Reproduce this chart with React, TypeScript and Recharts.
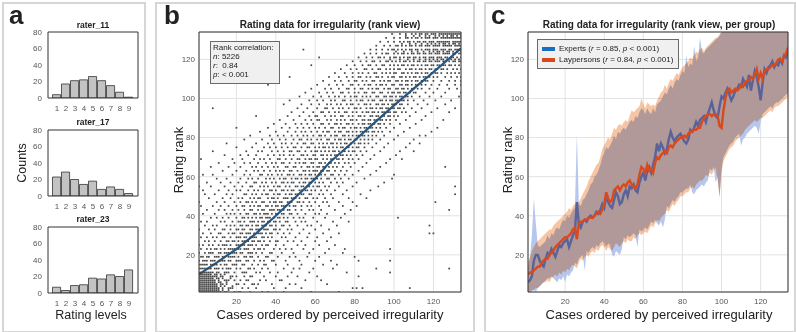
import React from 'react';
import { ComposedChart, Bar, Line, Area, Scatter, XAxis, YAxis, CartesianGrid } from 'recharts';

const FONT = '"Liberation Sans", Arial, Helvetica, sans-serif';
const AXIS = '#333';
const GRID = '#e3e3e3';

// panel a: histograms of three raters
const levels = [1, 2, 3, 4, 5, 6, 7, 8, 9];
const rater11 = [4, 17, 21, 22, 26, 21, 15, 7, 1];
const rater17 = [23, 29, 20, 14, 18, 8, 11, 8, 3];
const rater23 = [7, 3, 9, 10, 18, 17, 22, 20, 28];
const countTicks = [0, 20, 40, 60, 80];
const rankTicks = [20, 40, 60, 80, 100, 120];

// panel b: tied ranks form horizontal streaks.
// each streak: its rank and the cases holding a dot on it
const lowRanks = [1, 3, 5, 7, 9, 11, 13, 15, 17, 19, 21, 23, 25, 27, 29, 31, 33, 35, 37, 39, 41, 43];
const lowCases = [
  [1, 2, 3, 4, 5, 6, 7, 8, 9, 10, 11, 12, 14, 15, 19, 21, 22, 27, 33, 36, 44, 58, 72],
  [1, 2, 3, 4, 5, 6, 7, 8, 9, 10, 11, 13, 16, 17, 18, 23, 26, 30, 39, 45, 53, 79, 81, 84, 108],
  [1, 2, 3, 4, 5, 6, 7, 8, 9, 10, 12, 13, 15, 20, 21, 24, 28, 29, 31, 38, 47, 50, 66],
  [1, 2, 3, 4, 5, 6, 7, 8, 9, 11, 14, 15, 16, 19, 22, 25, 26, 32, 35, 42, 43, 55, 63],
  [1, 2, 3, 4, 5, 6, 7, 8, 9, 10, 12, 13, 17, 18, 20, 24, 27, 28, 34, 40, 46, 51, 61, 82],
  [1, 2, 3, 4, 5, 6, 7, 8, 10, 11, 14, 15, 16, 19, 23, 24, 25, 30, 32, 37, 41, 48, 57, 76, 98],
  [1, 2, 3, 4, 5, 6, 7, 9, 10, 11, 13, 15, 16, 17, 20, 22, 26, 27, 29, 33, 36, 44, 49, 52, 59, 69, 91, 128],
  [1, 2, 3, 4, 5, 7, 8, 9, 10, 12, 14, 15, 18, 19, 20, 23, 24, 28, 31, 34, 35, 40, 46, 53, 64, 71],
  [1, 3, 4, 5, 7, 8, 9, 11, 12, 13, 14, 16, 17, 20, 21, 22, 25, 26, 29, 32, 34, 38, 39, 45, 52, 60, 68, 82, 98],
  [2, 3, 5, 6, 9, 10, 11, 13, 14, 16, 17, 18, 19, 21, 24, 25, 27, 28, 31, 35, 36, 41, 47, 50, 56, 62, 80],
  [1, 4, 6, 7, 8, 11, 12, 14, 15, 16, 18, 19, 20, 22, 23, 26, 27, 28, 30, 33, 37, 38, 43, 49, 57, 65, 74],
  [2, 5, 7, 9, 10, 12, 14, 16, 17, 18, 19, 21, 22, 24, 25, 26, 29, 31, 32, 34, 39, 42, 45, 48, 54, 59, 67, 75, 98],
  [1, 3, 6, 8, 11, 13, 14, 15, 17, 20, 21, 22, 23, 24, 26, 27, 28, 30, 33, 35, 36, 40, 44, 51, 55, 62, 70],
  [4, 6, 9, 12, 15, 16, 18, 19, 21, 23, 24, 25, 26, 28, 29, 31, 32, 34, 37, 40, 41, 46, 49, 53, 60, 66],
  [2, 5, 8, 10, 13, 14, 17, 20, 21, 22, 24, 25, 27, 28, 29, 30, 33, 34, 36, 38, 43, 45, 50, 56, 61, 68],
  [3, 7, 11, 12, 16, 18, 19, 22, 23, 25, 26, 27, 29, 31, 32, 33, 35, 37, 38, 41, 44, 47, 52, 57, 64, 72, 118, 120],
  [1, 6, 9, 13, 14, 17, 20, 21, 23, 24, 27, 28, 30, 31, 32, 34, 35, 36, 39, 40, 42, 46, 48, 54, 60, 67],
  [4, 8, 10, 15, 17, 19, 22, 23, 25, 26, 28, 30, 31, 33, 34, 35, 37, 38, 40, 43, 44, 47, 51, 56, 58, 63, 71, 118],
  [2, 5, 12, 14, 18, 21, 22, 24, 27, 28, 29, 31, 33, 34, 36, 37, 39, 40, 42, 45, 46, 50, 53, 55, 61, 69, 77],
  [7, 10, 13, 16, 20, 23, 24, 26, 28, 30, 32, 33, 35, 36, 37, 39, 41, 42, 44, 46, 49, 52, 54, 59, 65, 73, 102],
  [3, 9, 15, 17, 19, 22, 25, 26, 29, 30, 32, 34, 35, 36, 38, 40, 41, 43, 44, 47, 48, 51, 55, 60, 62, 66, 75],
  [5, 11, 14, 18, 21, 24, 27, 28, 31, 33, 34, 37, 38, 39, 41, 42, 44, 46, 47, 50, 53, 57, 59, 63, 70, 78, 128],
];

const midRanks = [45, 47, 49, 51, 53, 55, 57, 59, 61, 63, 65, 67, 69, 71, 73, 75, 77, 79, 81, 83, 85, 87, 89];
const midCases = [
  [2, 8, 12, 16, 20, 23, 24, 27, 29, 31, 32, 35, 36, 38, 40, 41, 43, 44, 45, 47, 49, 50, 53, 56, 58, 62, 67, 74, 81],
  [1, 10, 14, 19, 22, 25, 26, 28, 30, 33, 34, 37, 39, 40, 42, 43, 46, 47, 48, 51, 52, 54, 57, 60, 64, 66, 72, 79, 121],
  [6, 13, 17, 21, 23, 27, 29, 31, 32, 36, 38, 39, 41, 44, 45, 46, 48, 49, 50, 52, 55, 56, 59, 61, 65, 69, 77, 86],
  [4, 9, 15, 18, 24, 25, 28, 30, 33, 35, 36, 39, 41, 42, 45, 47, 48, 50, 51, 53, 54, 57, 58, 62, 64, 68, 74, 83, 131],
  [3, 11, 16, 20, 22, 26, 29, 31, 34, 37, 38, 40, 43, 44, 46, 48, 49, 52, 53, 55, 56, 58, 60, 63, 66, 70, 76, 88],
  [1, 7, 14, 19, 23, 27, 28, 32, 34, 36, 39, 41, 42, 45, 47, 50, 51, 53, 54, 56, 57, 59, 61, 62, 65, 67, 72, 79, 92, 131],
  [5, 12, 17, 21, 25, 29, 30, 33, 35, 38, 40, 43, 44, 46, 48, 49, 52, 54, 55, 57, 58, 60, 62, 64, 68, 71, 74, 81, 95],
  [10, 15, 22, 26, 28, 31, 35, 37, 39, 42, 44, 45, 48, 50, 51, 53, 55, 56, 58, 59, 61, 63, 66, 67, 70, 73, 77, 85, 99],
  [3, 8, 18, 24, 27, 32, 33, 36, 38, 41, 43, 46, 47, 49, 52, 53, 55, 57, 58, 60, 62, 63, 65, 68, 69, 72, 75, 79, 88, 100],
  [13, 20, 25, 29, 31, 34, 37, 40, 42, 44, 47, 48, 51, 54, 55, 57, 59, 60, 61, 63, 64, 66, 67, 70, 73, 76, 82, 91],
  [7, 16, 22, 28, 30, 33, 36, 39, 41, 45, 46, 49, 50, 53, 56, 57, 59, 61, 62, 64, 65, 67, 69, 71, 74, 78, 84, 93, 126],
  [11, 19, 24, 27, 31, 35, 38, 40, 43, 44, 47, 50, 52, 54, 55, 58, 59, 62, 63, 65, 67, 68, 70, 72, 75, 77, 80, 86, 96],
  [2, 18, 23, 29, 32, 34, 37, 41, 42, 45, 48, 51, 52, 55, 57, 58, 60, 61, 64, 66, 68, 69, 71, 72, 74, 77, 79, 82, 88, 98, 104],
  [14, 22, 26, 30, 36, 39, 42, 44, 47, 49, 53, 54, 56, 59, 60, 63, 64, 66, 68, 70, 71, 73, 74, 76, 78, 81, 84, 90, 101],
  [8, 25, 31, 33, 38, 41, 44, 47, 48, 51, 52, 55, 58, 60, 61, 63, 65, 67, 69, 70, 72, 74, 75, 77, 79, 80, 83, 86, 93, 103, 110],
  [20, 28, 34, 37, 40, 43, 46, 49, 50, 53, 56, 57, 60, 62, 64, 65, 67, 69, 71, 73, 74, 76, 77, 79, 81, 82, 85, 89, 95, 106],
  [15, 30, 36, 39, 43, 45, 48, 51, 54, 55, 58, 59, 62, 64, 66, 68, 69, 71, 73, 75, 76, 78, 80, 82, 83, 85, 87, 91, 97, 108, 113],
  [24, 33, 38, 42, 45, 49, 52, 53, 56, 58, 61, 63, 66, 67, 70, 72, 73, 75, 77, 78, 80, 81, 83, 85, 87, 89, 93, 100, 110],
  [27, 37, 41, 44, 48, 51, 54, 56, 59, 62, 63, 65, 68, 70, 71, 74, 75, 77, 79, 81, 82, 84, 85, 87, 89, 91, 95, 102, 113, 116],
  [32, 40, 46, 50, 53, 55, 58, 61, 64, 66, 67, 70, 72, 73, 76, 77, 79, 81, 83, 84, 86, 87, 89, 90, 92, 94, 98, 105, 119],
  [20, 36, 43, 47, 51, 54, 57, 60, 62, 65, 68, 69, 72, 74, 75, 78, 80, 81, 83, 85, 86, 88, 89, 91, 93, 96, 100, 108, 122],
  [39, 45, 50, 53, 56, 59, 63, 64, 67, 70, 71, 73, 76, 77, 79, 82, 84, 85, 87, 88, 90, 92, 93, 95, 98, 103, 111],
  [42, 49, 55, 58, 61, 62, 66, 68, 71, 73, 75, 78, 79, 81, 84, 85, 87, 88, 90, 91, 93, 94, 96, 98, 101, 106, 114, 125],
];

const highRanks = [91, 93, 95, 97, 99, 101, 103, 105, 107, 109, 111, 113, 115, 117, 119, 121, 123, 125, 127, 129, 131, 133];
const highCases = [
  [30, 46, 52, 57, 60, 61, 65, 68, 70, 73, 74, 77, 79, 82, 83, 85, 88, 89, 91, 92, 94, 95, 97, 98, 100, 102, 108, 116],
  [48, 54, 59, 63, 64, 67, 70, 72, 75, 76, 79, 81, 84, 86, 87, 89, 90, 92, 94, 95, 97, 98, 100, 101, 104, 106, 111, 119, 128],
  [8, 51, 56, 61, 65, 66, 69, 72, 74, 77, 80, 81, 83, 86, 88, 89, 91, 93, 94, 96, 97, 99, 100, 102, 103, 105, 109, 114, 122, 131],
  [44, 53, 58, 62, 66, 68, 71, 73, 76, 78, 79, 82, 85, 86, 88, 91, 92, 94, 95, 97, 99, 100, 101, 103, 104, 107, 112, 117, 126],
  [47, 57, 61, 64, 68, 70, 74, 75, 78, 81, 83, 84, 87, 89, 90, 93, 94, 96, 98, 99, 101, 102, 104, 105, 107, 110, 115, 121, 129],
  [52, 59, 63, 67, 70, 72, 75, 78, 80, 81, 84, 86, 88, 91, 92, 95, 96, 98, 99, 101, 103, 104, 106, 107, 109, 113, 118, 124, 133],
  [55, 62, 66, 69, 73, 74, 77, 80, 82, 85, 86, 89, 90, 93, 94, 97, 99, 100, 102, 103, 105, 106, 108, 110, 111, 116, 120, 126, 134],
  [58, 65, 68, 72, 76, 77, 80, 83, 84, 87, 89, 91, 92, 95, 97, 98, 101, 102, 104, 105, 107, 109, 110, 112, 114, 118, 122, 128, 132],
  [36, 61, 67, 71, 74, 78, 79, 82, 85, 87, 88, 91, 93, 94, 96, 99, 100, 103, 104, 106, 107, 109, 111, 112, 114, 116, 119, 123, 127, 131, 134],
  [64, 70, 73, 77, 80, 81, 84, 86, 89, 90, 93, 95, 97, 98, 101, 102, 104, 106, 107, 109, 111, 112, 114, 116, 117, 120, 124, 128, 131, 134],
  [47, 67, 72, 76, 79, 82, 83, 86, 88, 91, 92, 94, 97, 99, 100, 103, 104, 106, 108, 110, 111, 113, 115, 116, 118, 120, 122, 126, 129, 132, 134],
  [70, 75, 79, 82, 84, 87, 90, 91, 94, 96, 98, 100, 101, 104, 105, 107, 109, 111, 112, 114, 116, 117, 119, 121, 122, 124, 127, 129, 131, 133],
  [73, 78, 81, 85, 86, 89, 92, 93, 96, 98, 100, 102, 103, 106, 108, 109, 111, 113, 114, 116, 118, 119, 121, 122, 124, 125, 127, 130, 132, 134],
  [58, 76, 80, 84, 87, 88, 91, 94, 95, 98, 100, 102, 104, 105, 107, 109, 110, 112, 114, 116, 117, 119, 120, 122, 123, 125, 126, 128, 129, 131, 133],
  [79, 83, 86, 89, 90, 93, 96, 97, 99, 101, 103, 105, 106, 108, 110, 112, 113, 115, 116, 118, 119, 121, 122, 123, 125, 126, 128, 130, 131, 133, 134],
  [62, 82, 86, 89, 92, 93, 95, 98, 100, 101, 103, 105, 107, 108, 110, 111, 113, 115, 116, 118, 119, 120, 122, 123, 124, 126, 127, 129, 130, 132, 134],
  [85, 88, 91, 94, 96, 97, 100, 102, 104, 105, 107, 109, 110, 112, 113, 115, 116, 118, 119, 121, 122, 123, 125, 126, 127, 128, 130, 131, 133, 134],
  [54, 88, 91, 94, 97, 99, 100, 102, 104, 106, 108, 109, 111, 112, 114, 116, 117, 118, 120, 121, 122, 124, 125, 126, 128, 129, 131, 132, 133, 134],
  [91, 95, 98, 101, 102, 104, 106, 108, 109, 111, 113, 114, 116, 117, 118, 120, 121, 122, 123, 125, 126, 127, 128, 129, 131, 132, 133, 134],
  [26, 93, 97, 100, 103, 105, 107, 108, 110, 112, 113, 115, 116, 118, 119, 120, 122, 123, 124, 125, 126, 127, 128, 130, 131, 132, 133, 134],
  [96, 100, 103, 106, 107, 109, 111, 112, 114, 116, 117, 118, 120, 121, 122, 124, 125, 126, 127, 128, 129, 130, 131, 132, 133, 134],
  [99, 103, 106, 109, 111, 113, 114, 116, 117, 119, 120, 121, 123, 124, 125, 126, 127, 128, 129, 130, 131, 132, 133, 134],
];

// the two dense corners hold extra in-between streaks
const cornerRanks = [2, 4, 6, 8, 10, 120, 124, 128, 132];
const cornerCases = [
  [1, 2, 3, 4, 5, 6, 7, 8, 9, 10, 11, 13, 16],
  [1, 2, 3, 4, 5, 6, 7, 8, 9, 10, 12, 14, 18],
  [1, 2, 3, 4, 5, 6, 7, 8, 9, 11, 12, 15],
  [1, 2, 3, 4, 5, 6, 7, 8, 10, 11, 13, 17],
  [1, 2, 3, 4, 5, 6, 7, 9, 10, 12, 14],
  [98, 103, 107, 110, 113, 116, 118, 120, 122, 124, 125, 127, 129, 131, 133],
  [101, 105, 109, 112, 115, 118, 120, 122, 123, 125, 127, 128, 130, 132, 134],
  [104, 108, 111, 114, 117, 119, 121, 123, 125, 126, 128, 130, 131, 133],
  [106, 110, 113, 116, 118, 121, 123, 125, 127, 129, 130, 132, 134],
];

// mean rank per case (blue line in b)
const trendCase = [1, 10, 20, 30, 40, 50, 60, 67, 80, 90, 100, 110, 120, 134];
const trendRank = [10, 16, 23, 31, 40, 49.5, 59, 67, 78.5, 87.5, 96.5, 105, 113.5, 125.7];

// panel c: per group mean rank and spread, cases 1..134
const expertsMean = [
  6, 7, 9, 17, 20, 20, 17, 15, 14, 18, 21, 20, 23, 21, 19, 22, 25, 24, 26, 27,
  28, 24, 27, 30, 32, 47, 36, 34, 37, 38, 37, 39, 40, 39, 40, 42, 41, 43, 46, 44,
  50, 47, 45, 44, 48, 52, 50, 46, 47, 51, 53, 50, 55, 54, 56, 53, 52, 57, 60, 62,
  58, 63, 65, 62, 66, 70, 77, 73, 77, 75, 72, 74, 79, 83, 80, 78, 80, 81, 82, 80,
  78, 77, 79, 84, 83, 85, 88, 86, 89, 90, 91, 88, 92, 95, 98, 94, 91, 90, 96, 101,
  100, 103, 105, 102, 99, 101, 104, 105, 107, 106, 110, 108, 106, 112, 104, 109, 114, 111, 106, 99,
  108, 115, 113, 116, 117, 119, 116, 118, 117, 120, 118, 122, 121, 124,
];
const laypersonsMean = [
  10, 11, 11, 12, 13, 14, 14, 16, 17, 18, 18, 20, 21, 22, 24, 25, 26, 27, 28, 29,
  29, 30, 31, 33, 34, 28, 36, 37, 37, 38, 38, 39, 39, 39, 40, 41, 42, 41, 43, 46,
  52, 49, 47, 48, 53, 54, 55, 53, 55, 56, 55, 57, 58, 56, 55, 54, 56, 61, 65, 64,
  62, 66, 63, 64, 62, 67, 70, 69, 71, 72, 73, 72, 75, 76, 75, 77, 78, 79, 80, 80,
  81, 80, 82, 83, 83, 84, 84, 85, 85, 88, 90, 91, 92, 92, 91, 92, 92, 91, 86, 85,
  94, 100, 104, 105, 103, 104, 105, 104, 105, 107, 106, 108, 109, 109, 111, 110, 112, 115, 110, 113,
  110, 114, 115, 115, 116, 117, 117, 118, 120, 120, 119, 122, 123, 126,
];
const expertsLo = [
  1, 1, 1, 2, 1, 3, 4, 5, 6, 7, 8, 8, 9, 8, 7, 6, 8, 7, 9, 6,
  10, 9, 11, 12, 16, 15, 18, 19, 20, 12, 22, 21, 23, 24, 23, 25, 24, 26, 27, 26,
  24, 26, 25, 20, 19, 22, 21, 20, 23, 29, 28, 30, 29, 30, 31, 30, 24, 33, 32, 33,
  34, 33, 35, 37, 36, 38, 36, 35, 37, 34, 38, 45, 44, 46, 48, 47, 49, 50, 52, 52,
  53, 54, 54, 56, 52, 51, 53, 54, 55, 56, 55, 57, 58, 64, 63, 65, 57, 60, 49, 64,
  70, 72, 74, 76, 77, 78, 80, 81, 82, 76, 79, 80, 82, 83, 84, 85, 86, 85, 82, 88,
  92, 93, 94, 95, 96, 95, 97, 98, 98, 99, 100, 101, 102, 103,
];
const expertsHi = [
  14, 18, 30, 49, 36, 25, 24, 25, 26, 27, 30, 28, 31, 30, 33, 34, 33, 36, 38, 37,
  40, 39, 41, 43, 44, 82, 46, 45, 48, 49, 51, 53, 56, 57, 60, 61, 63, 66, 70, 72,
  75, 74, 76, 78, 81, 79, 83, 82, 84, 85, 84, 86, 88, 89, 88, 91, 90, 93, 95, 94,
  92, 95, 93, 92, 95, 93, 97, 98, 99, 101, 103, 102, 105, 107, 105, 108, 110, 109, 112, 114,
  113, 122, 116, 118, 117, 127, 119, 121, 131, 124, 123, 125, 126, 127, 128, 129, 130, 131, 132, 134,
  136, 136, 136, 136, 136, 136, 136, 136, 136, 136, 136, 136, 136, 136, 136, 136, 136, 136, 136, 136,
  136, 136, 136, 136, 136, 136, 136, 136, 136, 136, 136, 136, 136, 136,
];
const laypersonsLo = [
  1, 1, 2, 2, 3, 3, 4, 5, 6, 6, 7, 6, 8, 9, 10, 9, 11, 10, 12, 11,
  13, 12, 14, 15, 14, 13, 16, 18, 17, 19, 20, 19, 21, 22, 21, 23, 22, 24, 25, 24,
  22, 24, 23, 22, 24, 26, 25, 24, 26, 27, 26, 28, 27, 27, 29, 28, 30, 31, 30, 31,
  32, 31, 33, 35, 34, 36, 38, 37, 39, 40, 41, 43, 42, 44, 46, 45, 47, 48, 50, 50,
  51, 52, 52, 54, 55, 54, 56, 57, 58, 58, 59, 61, 60, 62, 61, 63, 65, 58, 50, 62,
  68, 70, 72, 74, 75, 76, 78, 79, 80, 81, 82, 84, 85, 86, 87, 88, 89, 88, 89, 90,
  90, 91, 92, 93, 94, 93, 95, 96, 96, 97, 98, 99, 100, 101,
];
const laypersonsHi = [
  17, 19, 22, 24, 26, 27, 28, 29, 30, 31, 32, 33, 33, 35, 36, 37, 38, 39, 40, 41,
  42, 44, 43, 45, 46, 45, 47, 49, 51, 53, 55, 58, 60, 62, 64, 66, 67, 70, 74, 76,
  78, 80, 79, 82, 85, 84, 86, 87, 86, 88, 89, 88, 91, 94, 93, 94, 95, 96, 100, 97,
  95, 98, 97, 96, 97, 96, 99, 101, 103, 104, 107, 105, 108, 110, 109, 111, 113, 112, 114, 116,
  117, 118, 119, 121, 120, 122, 124, 123, 125, 126, 124, 126, 127, 128, 129, 130, 131, 131, 133, 134,
  136, 136, 136, 136, 136, 136, 136, 136, 136, 136, 136, 136, 136, 136, 136, 136, 136, 136, 136, 136,
  136, 136, 136, 136, 136, 136, 136, 136, 136, 136, 136, 136, 136, 136,
];

const streakRanks = [...lowRanks, ...midRanks, ...highRanks, ...cornerRanks];
const streakCases = [...lowCases, ...midCases, ...highCases, ...cornerCases];
const dots = streakCases.flatMap((cases, i) => cases.map(c => ({ x: c, y: streakRanks[i] })));
const trend = trendCase.map((x, i) => ({ x, y: trendRank[i] }));
const groupRows = expertsMean.map((v, i) => ({
  x: i + 1,
  exp: v,
  lay: laypersonsMean[i],
  expBand: [expertsLo[i], expertsHi[i]],
  layBand: [laypersonsLo[i], laypersonsHi[i]],
}));

const tickStyle = { fontSize: 8, fill: '#555', fontFamily: FONT };

// MATLAB-like box: labelled bottom/left axes plus inward tick marks on all four sides
function frame(o: {
  xDomain: number[]; yDomain: number[]; xTicks: number[]; yTicks: number[];
  xHeight: number; yWidth: number; xGap: number; yGap: number; inTick: number; yKey?: string;
}) {
  const common = { type: 'number' as const, allowDataOverflow: true, interval: 0 as const };
  return [
    <XAxis key="xm" xAxisId="m" dataKey="x" {...common} domain={o.xDomain} ticks={o.xTicks} height={o.xHeight}
      tickLine={false} tickSize={o.xGap} tickMargin={2} axisLine={{ stroke: AXIS }} tick={tickStyle} />,
    <XAxis key="xi" xAxisId="xi" dataKey="x" {...common} domain={o.xDomain} ticks={o.xTicks} orientation="bottom" mirror
      height={1} tick={false} tickSize={o.inTick} tickLine={{ stroke: AXIS }} axisLine={false} />,
    <XAxis key="xt" xAxisId="xt" dataKey="x" {...common} domain={o.xDomain} ticks={o.xTicks} orientation="top" mirror
      height={1} tick={false} tickSize={o.inTick} tickLine={{ stroke: AXIS }} axisLine={{ stroke: AXIS }} />,
    <YAxis key="ym" yAxisId="m" dataKey={o.yKey} {...common} domain={o.yDomain} ticks={o.yTicks} width={o.yWidth}
      tickLine={false} tickSize={o.yGap} tickMargin={2} axisLine={{ stroke: AXIS }} tick={tickStyle} />,
    <YAxis key="yi" yAxisId="yi" {...common} domain={o.yDomain} ticks={o.yTicks} orientation="left" mirror
      width={1} tick={false} tickSize={o.inTick} tickLine={{ stroke: AXIS }} axisLine={false} />,
    <YAxis key="yr" yAxisId="yr" {...common} domain={o.yDomain} ticks={o.yTicks} orientation="right" mirror
      width={1} tick={false} tickSize={o.inTick} tickLine={{ stroke: AXIS }} axisLine={{ stroke: AXIS }} />,
  ];
}

function Txt({ x, y, children, size = 8, bold = false, rotate = false, color = '#222', align = 'center' }: any) {
  const tx = align === 'center' ? '-50%' : '0';
  return (
    <div
      style={{
        position: 'absolute', left: x, top: y, fontFamily: FONT, fontSize: size, lineHeight: 1,
        fontWeight: bold ? 700 : 400, color, whiteSpace: 'nowrap',
        transform: `translate(${tx}, -50%)${rotate ? ' rotate(-90deg)' : ''}`,
      }}
    >
      {children}
    </div>
  );
}

function RaterHist({ counts, top }: { counts: number[]; top: number }) {
  const data = levels.map((x, i) => ({ x, count: counts[i] }));
  return (
    <div style={{ position: 'absolute', left: 0, top: top - 8 }}>
      <ComposedChart width={144} height={90} data={data} margin={{ top: 8, right: 6, bottom: 0, left: 28 }}>
        {frame({ xDomain: [0, 10], yDomain: [0, 80], xTicks: levels, yTicks: countTicks, xHeight: 16, yWidth: 20, xGap: 5, yGap: 4, inTick: 2 })}
        <Bar xAxisId="m" yAxisId="m" dataKey="count" barSize={9} fill="#c3c3c3" stroke="#333" strokeWidth={0.8} isAnimationActive={false} />
      </ComposedChart>
    </div>
  );
}

const Dot = (p: any) => <rect x={p.cx - 0.85} y={p.cy - 0.85} width={1.7} height={1.7} fill="#454545" />;

const panelBox = (left: number, width: number) => (
  <div style={{ position: 'absolute', left, top: 2, width, height: 327, border: '2px solid #d6d6d6' }} />
);

export default function App() {
  return (
    <div style={{ position: 'absolute', left: 0, top: 0, width: 796, height: 332, background: '#fff', overflow: 'hidden' }}>
      <style>{'.lay-band { mix-blend-mode: multiply; }'}</style>
      {panelBox(2, 140)}
      {panelBox(155, 316)}
      {panelBox(484, 308)}

      {/* panel a */}
      <Txt x={9} y={5} size={26} bold align="left"><span style={{ position: 'relative', top: 10 }}>a</span></Txt>
      <Txt x={93} y={25} size={8.5} bold>rater_11</Txt>
      <Txt x={93} y={122} size={8.5} bold>rater_17</Txt>
      <Txt x={93} y={219} size={8.5} bold>rater_23</Txt>
      <RaterHist counts={rater11} top={32} />
      <RaterHist counts={rater17} top={130} />
      <RaterHist counts={rater23} top={227} />
      <Txt x={22} y={163} size={12.5} rotate>Counts</Txt>
      <Txt x={91} y={315} size={12.5}>Rating levels</Txt>

      {/* panel b */}
      <Txt x={164} y={5} size={26} bold align="left"><span style={{ position: 'relative', top: 10 }}>b</span></Txt>
      <Txt x={330} y={25} size={10} bold>Rating data for irregularity (rank view)</Txt>
      <div style={{ position: 'absolute', left: 156, top: 0 }}>
        <ComposedChart width={318} height={332} margin={{ top: 32, right: 13, bottom: 20, left: 15 }}>
          <CartesianGrid xAxisId="m" yAxisId="m" stroke={GRID} />
          {frame({ xDomain: [1, 134], yDomain: [1, 134], xTicks: rankTicks, yTicks: rankTicks, xHeight: 20, yWidth: 28, xGap: 4, yGap: 2, inTick: 2.5, yKey: 'y' })}
          <Scatter xAxisId="m" yAxisId="m" data={dots} dataKey="y" shape={Dot} isAnimationActive={false} />
          <Line xAxisId="m" yAxisId="m" data={trend} dataKey="y" type="linear" stroke="#1d5b92" strokeWidth={2.2} dot={false} isAnimationActive={false} />
        </ComposedChart>
      </div>
      <div style={{ position: 'absolute', left: 210, top: 41, width: 68, height: 41, background: '#f0f0f0', border: '1px solid #6a6a6a' }} />
      <Txt x={213} y={48} align="left">Rank correlation:</Txt>
      <Txt x={213} y={57} align="left"><i>n</i>: 5226</Txt>
      <Txt x={213} y={66} align="left"><i>r</i>:&nbsp; 0.84</Txt>
      <Txt x={213} y={75} align="left"><i>p</i>: &lt; 0.001</Txt>
      <Txt x={178} y={160} size={13} rotate>Rating rank</Txt>
      <Txt x={330} y={314} size={13}>Cases ordered by perceived irregularity</Txt>

      {/* panel c */}
      <Txt x={491} y={5} size={26} bold align="left"><span style={{ position: 'relative', top: 10 }}>c</span></Txt>
      <Txt x={659} y={25} size={10} bold>Rating data for irregularity (rank view, per group)</Txt>
      <div style={{ position: 'absolute', left: 485, top: 0 }}>
        <ComposedChart width={309} height={332} data={groupRows} margin={{ top: 32, right: 6, bottom: 20, left: 15 }}>
          <CartesianGrid xAxisId="m" yAxisId="m" stroke={GRID} />
          {frame({ xDomain: [1, 134], yDomain: [1, 134], xTicks: rankTicks, yTicks: rankTicks, xHeight: 20, yWidth: 28, xGap: 4, yGap: 2, inTick: 2.5 })}
          <Area xAxisId="m" yAxisId="m" dataKey="expBand" type="linear" stroke="none" fill="#b6c6ec" fillOpacity={1} isAnimationActive={false} />
          <Area xAxisId="m" yAxisId="m" dataKey="layBand" type="linear" stroke="none" fill="#f7c5a4" fillOpacity={1} className="lay-band" isAnimationActive={false} />
          <Line xAxisId="m" yAxisId="m" dataKey="exp" type="linear" stroke="#59639a" strokeWidth={2.4} dot={false} isAnimationActive={false} />
          <Line xAxisId="m" yAxisId="m" dataKey="lay" type="linear" stroke="#d84a1e" strokeWidth={2.4} dot={false} isAnimationActive={false} />
        </ComposedChart>
      </div>
      <div style={{ position: 'absolute', left: 537, top: 39, width: 140, height: 28, background: '#f0f0f0', border: '1px solid #6a6a6a' }} />
      <div style={{ position: 'absolute', left: 542, top: 46.5, width: 13, height: 4, background: '#1a6ec0' }} />
      <div style={{ position: 'absolute', left: 542, top: 57.5, width: 13, height: 4, background: '#d9471d' }} />
      <Txt x={559} y={48.5} align="left">Experts (<i>r</i> = 0.85, <i>p</i> &lt; 0.001)</Txt>
      <Txt x={559} y={59.5} align="left">Laypersons (<i>r</i> = 0.84, <i>p</i> &lt; 0.001)</Txt>
      <Txt x={507} y={160} size={13} rotate>Rating rank</Txt>
      <Txt x={659} y={314} size={13}>Cases ordered by perceived irregularity</Txt>
    </div>
  );
}
